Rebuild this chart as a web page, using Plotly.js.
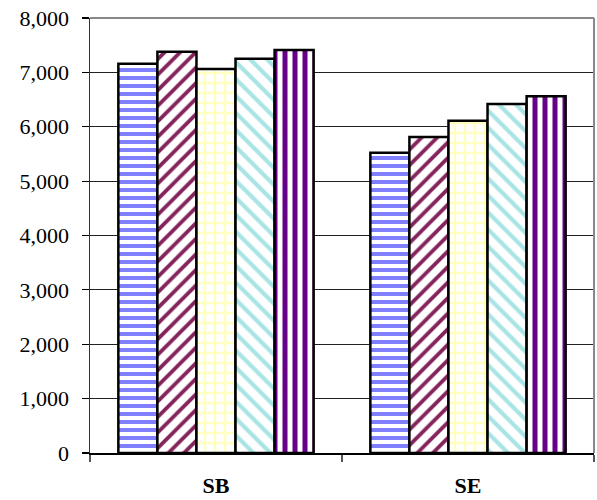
<!DOCTYPE html>
<html>
<head>
<meta charset="utf-8">
<script src="https://cdn.plot.ly/plotly-3.0.1.min.js"></script>
<style>html,body{margin:0;padding:0;background:#fff;}#chart{width:597px;height:500px;}</style>
</head>
<body>
<div id="chart"></div>
<script>
// Data
var categories = ["SB", "SE"];
var series1 = [7160, 5520];
var series2 = [7380, 5810];
var series3 = [7060, 6110];
var series4 = [7250, 6420];
var series5 = [7410, 6560];
var yTickVals = [0, 1000, 2000, 3000, 4000, 5000, 6000, 7000, 8000];
var yTickText = ["0", "1,000", "2,000", "3,000", "4,000", "5,000", "6,000", "7,000", "8,000"];

var FONT = "'Liberation Serif', 'Times New Roman', serif";

var allSeries = [series1, series2, series3, series4, series5];
var styles = [
  {color: "#8080FF", shape: "-", size: 8, solidity: 0.5},
  {color: "#84245C", shape: "/", size: 11, solidity: 0.35},
  {color: "#FFFFC0", shape: "+", size: 10, solidity: 0.4},
  {color: "#A8E4E4", shape: "\\", size: 12, solidity: 0.35},
  {color: "#660088", shape: "|", size: 10, solidity: 0.5}
];

var traces = allSeries.map(function (vals, i) {
  var s = styles[i];
  return {
    type: "bar",
    x: categories,
    y: vals,
    marker: {
      color: s.color,
      line: {color: "#000000", width: 2.5},
      pattern: {shape: s.shape, fillmode: "replace", bgcolor: "#FFFFFF", fgcolor: s.color, size: s.size, solidity: s.solidity}
    },
    hoverinfo: "skip"
  };
});

var layout = {
  width: 597,
  height: 500,
  margin: {l: 90, r: 3, t: 18, b: 47},
  paper_bgcolor: "#FFFFFF",
  plot_bgcolor: "#FFFFFF",
  showlegend: false,
  barmode: "group",
  bargap: 0.225,
  bargroupgap: 0,
  font: {family: FONT, color: "#000000", size: 22},
  xaxis: {
    type: "category",
    showgrid: false,
    showline: true,
    linecolor: "#000000",
    linewidth: 1.5,
    ticks: "outside",
    tickson: "boundaries",
    ticklen: 7,
    tickcolor: "#555555",
    tickwidth: 1.5,
    ticklabelstandoff: 12,
    tickfont: {family: FONT, size: 22, color: "#000000", weight: "bold"},
    zeroline: false
  },
  yaxis: {
    range: [0, 8000],
    tickvals: yTickVals,
    ticktext: yTickText,
    showgrid: true,
    gridcolor: "#222222",
    gridwidth: 1.2,
    showline: true,
    linecolor: "#333333",
    linewidth: 1.5,
    ticks: "outside",
    ticklen: 7,
    tickcolor: "#000000",
    tickwidth: 1.2,
    ticklabelstandoff: 8,
    zeroline: false,
    tickfont: {family: FONT, size: 22, color: "#000000"}
  },
  shapes: [
    {type: "line", xref: "paper", yref: "paper", x0: 0, x1: 1, y0: 1, y1: 1, line: {color: "#888888", width: 2}},
    {type: "line", xref: "paper", yref: "paper", x0: 1, x1: 1, y0: 0, y1: 1, line: {color: "#888888", width: 2}}
  ]
};

Plotly.newPlot("chart", traces, layout, {staticPlot: true, displayModeBar: false});
</script>
</body>
</html>
